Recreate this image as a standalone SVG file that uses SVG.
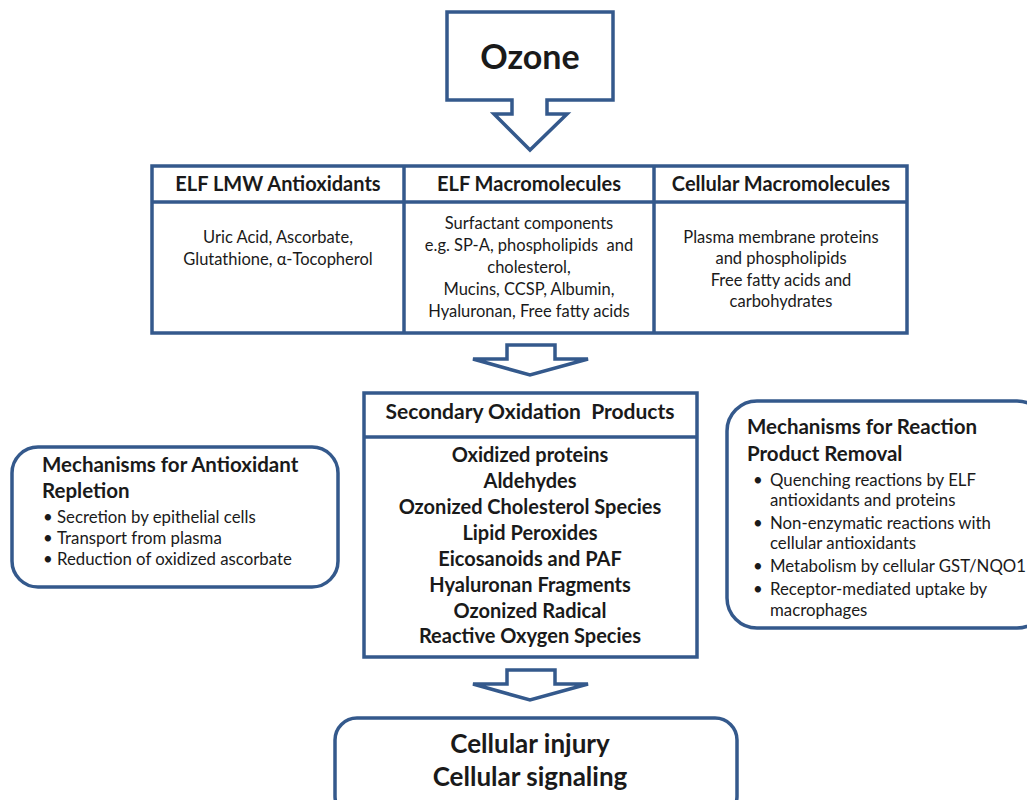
<svg xmlns="http://www.w3.org/2000/svg" width="1027" height="800" viewBox="0 0 1027 800">
<style>
.s{fill:#fff;stroke:#34598C;stroke-width:3.5}
.t{font-family:Lato,"Liberation Sans",sans-serif;fill:#1a1a1a}
.b{font-weight:bold}
.c{text-anchor:middle}
.hd{font-size:20px}
.bd{font-size:16.5px}
.it{font-size:20px}
.bl{font-size:16.8px}
.mh{font-size:20.5px}
</style>
<rect width="1027" height="800" fill="#fff"/>
<g id="ozone">
<path class="s" d="M447,12 H613 V100 H547 V114 H567 L530,150 L494,114 H512 V100 H447 Z"/>
<text class="t b c" x="530" y="69" font-size="34">Ozone</text>
</g>
<g id="targets">
<rect class="s" x="152" y="166" width="755" height="167"/>
<line class="s" x1="152" y1="202" x2="907" y2="202"/>
<line class="s" x1="404" y1="166" x2="404" y2="333"/>
<line class="s" x1="654" y1="166" x2="654" y2="333"/>
<text class="t b c hd" x="278" y="191">ELF LMW Antioxidants</text>
<text class="t b c hd" x="529" y="191">ELF Macromolecules</text>
<text class="t b c hd" x="781" y="191">Cellular Macromolecules</text>
<text class="t c bd" x="278" y="243">Uric Acid, Ascorbate,</text>
<text class="t c bd" x="278" y="265">Glutathione, α-Tocopherol</text>
<text class="t c bd" x="529" y="229">Surfactant components</text>
<text class="t c bd" x="529" y="251" xml:space="preserve">e.g. SP-A, phospholipids  and</text>
<text class="t c bd" x="529" y="273">cholesterol,</text>
<text class="t c bd" x="529" y="295">Mucins, CCSP, Albumin,</text>
<text class="t c bd" x="529" y="317">Hyaluronan, Free fatty acids</text>
<text class="t c bd" x="781" y="243">Plasma membrane proteins</text>
<text class="t c bd" x="781" y="264">and phospholipids</text>
<text class="t c bd" x="781" y="286">Free fatty acids and</text>
<text class="t c bd" x="781" y="307">carbohydrates</text>
</g>
<g id="products">
<rect class="s" x="364" y="393" width="333" height="264"/>
<line class="s" x1="364" y1="437" x2="697" y2="437"/>
<text class="t b c" x="530" y="419" font-size="21" xml:space="preserve">Secondary Oxidation  Products</text>
<g class="t b c it">
<text x="530" y="462">Oxidized proteins</text>
<text x="530" y="488">Aldehydes</text>
<text x="530" y="514">Ozonized Cholesterol Species</text>
<text x="530" y="540">Lipid Peroxides</text>
<text x="530" y="566">Eicosanoids and PAF</text>
<text x="530" y="592">Hyaluronan Fragments</text>
<text x="530" y="618">Ozonized Radical</text>
<text x="530" y="643">Reactive Oxygen Species</text>
</g>
</g>
<g id="repletion">
<rect class="s" x="12" y="447" width="326" height="140" rx="26"/>
<text class="t b mh" x="42" y="472">Mechanisms for Antioxidant</text>
<text class="t b mh" x="42" y="498">Repletion</text>
<g class="t bl">
<text x="43" y="523">•</text><text x="57" y="523">Secretion by epithelial cells</text>
<text x="43" y="544">•</text><text x="57" y="544">Transport from plasma</text>
<text x="43" y="565">•</text><text x="57" y="565">Reduction of oxidized ascorbate</text>
</g>
</g>
<g id="removal">
<rect class="s" x="727" y="401" width="320" height="227" rx="30"/>
<text class="t b mh" x="747" y="434">Mechanisms for Reaction</text>
<text class="t b mh" x="747" y="461">Product Removal</text>
<g class="t bl">
<text x="753" y="486">•</text><text x="770" y="486">Quenching reactions by ELF</text>
<text x="770" y="506">antioxidants and proteins</text>
<text x="753" y="529">•</text><text x="770" y="529">Non-enzymatic reactions with</text>
<text x="770" y="549">cellular antioxidants</text>
<text x="753" y="572">•</text><text x="770" y="572">Metabolism by cellular GST/NQO1</text>
<text x="753" y="595">•</text><text x="770" y="595">Receptor-mediated uptake by</text>
<text x="770" y="616">macrophages</text>
</g>
</g>
<g id="outcome">
<rect class="s" x="335" y="718" width="402" height="100" rx="22"/>
<text class="t b c" x="530" y="753" font-size="26">Cellular injury</text>
<text class="t b c" x="530" y="786" font-size="26">Cellular signaling</text>
</g>
<g id="connectors">
<path class="s" d="M507,345 H555 V359 H588 L530,375 L473,359 H507 Z"/>
<path class="s" d="M507,670 H555 V684 H588 L530,700 L473,684 H507 Z"/>
</g>
</svg>
